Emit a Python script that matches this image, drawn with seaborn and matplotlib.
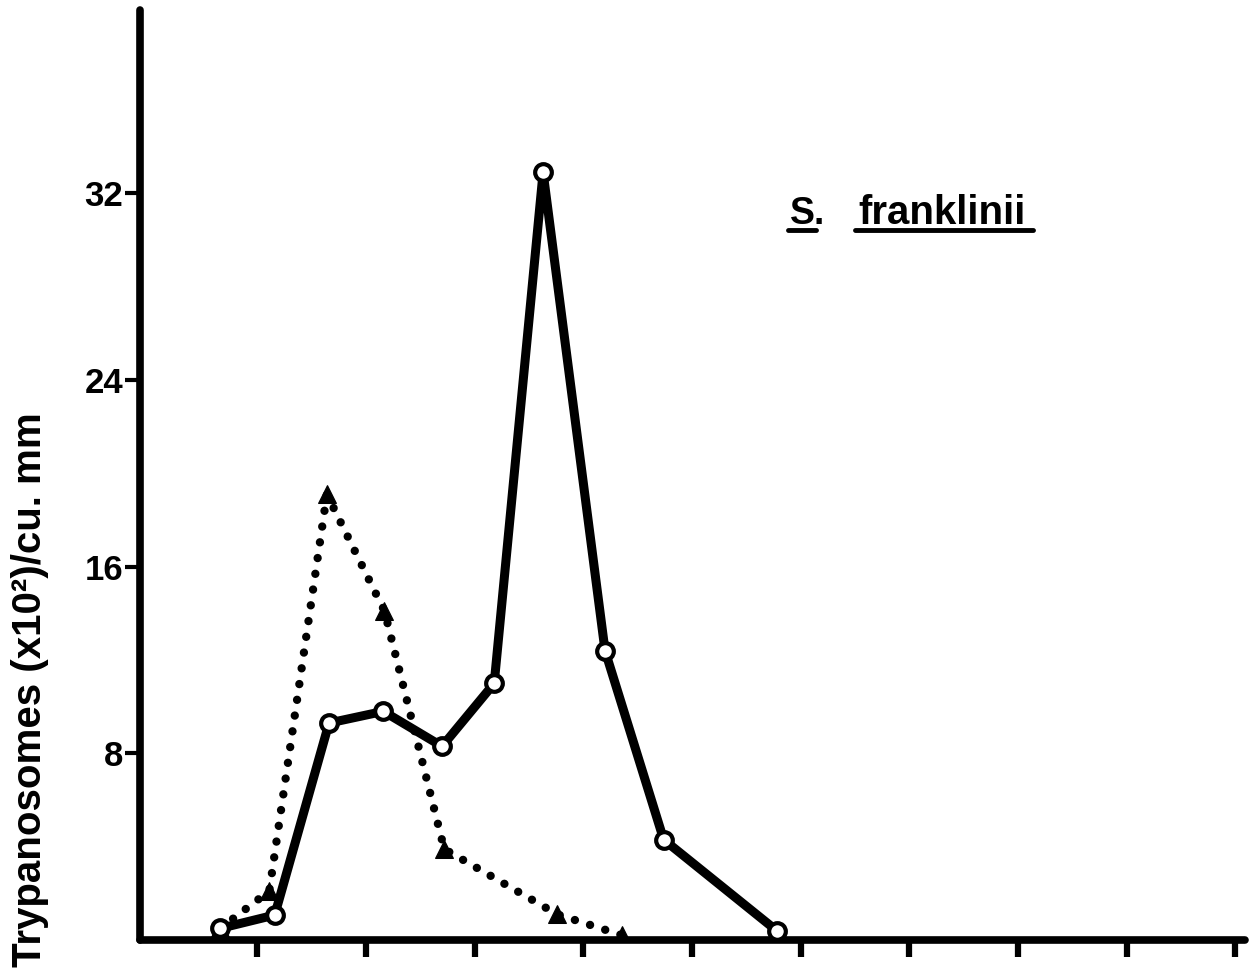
import matplotlib
matplotlib.use('Agg')
import matplotlib.pyplot as plt
import seaborn as sns
import pandas as pd
from matplotlib.lines import Line2D

# ---- data ----
solid_x = [0.66, 1.16, 1.66, 2.16, 2.70, 3.18, 3.63, 4.20, 4.74, 5.78]
solid_y = [0.5, 1.07, 9.3, 9.8, 8.3, 11.0, 32.9, 12.4, 4.3, 0.4]
dotted_x = [0.66, 1.11, 1.64, 2.17, 2.72, 3.76, 4.36]
dotted_y = [0.5, 2.1, 19.1, 14.1, 3.9, 1.1, 0.2]
x_ticks = [1, 2, 3, 4, 5, 6, 7, 8, 9, 10]
y_ticks = [8, 16, 24, 32]
y_tick_labels = ["8", "16", "24", "32"]
species_abbrev = "S"
species_name = "franklinii"
y_label = "Trypanosomes (x10²)/cu. mm"

sns.set_theme(style="white")
plt.rcParams['font.family'] = ['Liberation Sans', 'DejaVu Sans']
plt.rcParams['text.color'] = 'black'
plt.rcParams['ytick.color'] = 'black'
plt.rcParams['xtick.color'] = 'black'

W, H = 1257, 972
fig = plt.figure(figsize=(W / 100, H / 100), dpi=100)
ax = fig.add_axes([140 / W, (H - 940) / H, (1245 - 140) / W, (940 - 10) / H])

solid_df = pd.DataFrame({"x": solid_x, "y": solid_y})
dotted_df = pd.DataFrame({"x": dotted_x, "y": dotted_y})

sns.lineplot(data=dotted_df, x="x", y="y", ax=ax, color="black",
             linestyle=(0, (0.01, 1.9)), linewidth=6,
             dash_capstyle="round", marker="^", markersize=13,
             markerfacecolor="black", markeredgecolor="black", zorder=3)
sns.lineplot(data=solid_df, x="x", y="y", ax=ax, color="black",
             linewidth=6.5, solid_capstyle="round", marker="o", markersize=12,
             markerfacecolor="white", markeredgecolor="black",
             markeredgewidth=3, zorder=4)

ax.set_xlim(-0.08, 10.09)
ax.set_ylim(0, 39.86)

for s in ["top", "right"]:
    ax.spines[s].set_visible(False)
for s in ["left", "bottom"]:
    ax.spines[s].set_linewidth(5.5)
    ax.spines[s].set_color("black")
    ax.spines[s].set_capstyle("round")

ax.set_xticks(x_ticks)
ax.set_xticklabels([])
ax.set_yticks(y_ticks)
ax.set_yticklabels(y_tick_labels, fontsize=25, fontweight="bold", color="black")
ax.tick_params(axis="x", direction="out", length=12, width=4.5, color="black", bottom=True)
ax.tick_params(axis="y", direction="out", length=11, width=3, color="black", pad=1, left=True)
ax.set_xlabel("")
ax.set_ylabel("")
ax.grid(False)

# y-axis label
fig.text(30 / W, 1 - 412 / H, y_label, rotation=90, ha="center", va="top",
         fontsize=29, fontweight="bold", color="black")

# species label with underlines
fig.text(790 / W, 1 - 224 / H, species_abbrev + ".", fontsize=27,
         fontweight="bold", ha="left", va="baseline", color="black")
fig.text(858 / W, 1 - 224 / H, species_name, fontsize=29,
         fontweight="bold", ha="left", va="baseline", color="black")
fig.add_artist(Line2D([788 / W, 816 / W], [1 - 230 / H, 1 - 230 / H],
                      color="black", lw=3.5, solid_capstyle="round"))
fig.add_artist(Line2D([855 / W, 1033 / W], [1 - 230 / H, 1 - 230 / H],
                      color="black", lw=3.5, solid_capstyle="round"))

fig.savefig("out.png", dpi=100, facecolor="white")
